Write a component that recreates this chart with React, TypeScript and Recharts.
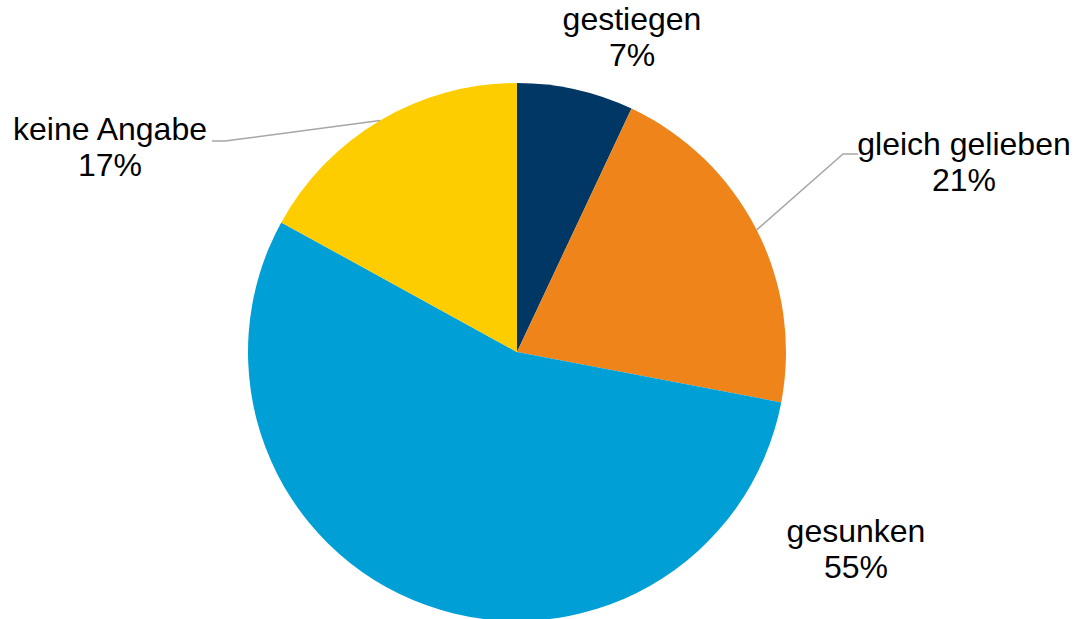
import React from "react";
import { PieChart, Pie, Cell } from "recharts";

const categories = ["gestiegen", "gleich gelieben", "gesunken", "keine Angabe"];
const shares = [7, 21, 55, 17];
const colors = ["#003764", "#EF841A", "#009FD6", "#FDCD00"];

// label placement relative to the pie centre (Excel moved these by hand)
// tx/ty = text anchor + first baseline, ex/ey = leader elbow, lx = leader end
const labelLayout = [
  { tx: 115, ty: -322 },
  { tx: 447, ty: -197, ex: 326, ey: -198, lx: 341 },
  { tx: 339, ty: 190 },
  { tx: -407, ty: -212, ex: -292, ey: -211, lx: -305 },
];

const data = categories.map((name, i) => ({ name, value: shares[i] }));

const RAD = Math.PI / 180;
const FONT = '"Liberation Sans", Arial, sans-serif';

function renderLabel(props: any) {
  const { cx, cy, midAngle, outerRadius, index, name, value } = props;
  const pos = labelLayout[index];
  const x = cx + pos.tx;
  const y = cy + pos.ty;
  let line = null;
  if (pos.ex !== undefined) {
    const sx = cx + outerRadius * Math.cos(-midAngle * RAD);
    const sy = cy + outerRadius * Math.sin(-midAngle * RAD);
    line = (
      <polyline
        points={`${sx},${sy} ${cx + pos.ex},${cy + pos.ey} ${cx + pos.lx},${cy + pos.ey}`}
        fill="none"
        stroke="#A6A6A6"
        strokeWidth={1.5}
      />
    );
  }
  return (
    <g key={`lbl-${index}`}>
      {line}
      <text x={x} y={y} textAnchor="middle" fontFamily={FONT} fontSize={32} fill="#000">
        <tspan x={x} dy={0}>{name}</tspan>
        <tspan x={x} dy={36}>{`${value}%`}</tspan>
      </text>
    </g>
  );
}

export default function App() {
  return (
    <div style={{ position: "fixed", left: 0, top: 0, background: "#fff" }}>
      <PieChart width={1078} height={619} margin={{ top: 0, right: 0, bottom: 0, left: 0 }}>
        <Pie
          data={data}
          dataKey="value"
          nameKey="name"
          cx={517}
          cy={352}
          outerRadius={269}
          startAngle={90}
          endAngle={-270}
          stroke="none"
          label={renderLabel}
          labelLine={false}
          isAnimationActive={false}
        >
          {data.map((d, i) => (
            <Cell key={d.name} fill={colors[i]} />
          ))}
        </Pie>
      </PieChart>
    </div>
  );
}
